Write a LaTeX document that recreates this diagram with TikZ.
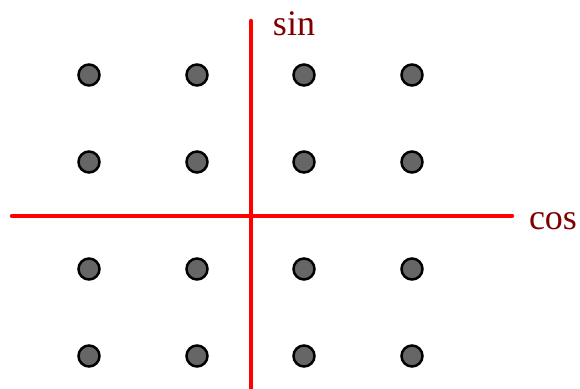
\documentclass[tikz,border=0pt]{standalone}
\usepackage{fontspec}
\setmainfont{Liberation Serif}
\definecolor{lbl}{HTML}{800000}
\definecolor{dotgray}{HTML}{666666}
\begin{document}
\begin{tikzpicture}[x=1pt,y=-1pt,
  pt/.style={circle,draw=black,fill=dotgray,line width=2.5pt,minimum size=21pt,inner sep=0pt},
  axis/.style={red,line width=4.5pt,line cap=round},
  lab/.style={text=lbl,font=\fontsize{36}{42}\selectfont,inner sep=0pt}]
\useasboundingbox (0,0) rectangle (580,388);
\coordinate (xl) at (12,216);
\coordinate (xr) at (512,216);
\coordinate (yt) at (251,21);
\coordinate (yb) at (251,390);
\draw[axis] (xl) -- (xr);
\draw[axis] (yt) -- (yb);
\node[lab,anchor=base] (sin) at (294,35) {sin};
\node[lab,anchor=base] (cos) at (553,229) {cos};
\foreach \x/\i in {89/1,197/2,304/3,412/4}
  \foreach \y/\j in {75/1,162/2,269/3,356/4}
    \node[pt] (p\i\j) at (\x,\y) {};
\end{tikzpicture}
\end{document}
